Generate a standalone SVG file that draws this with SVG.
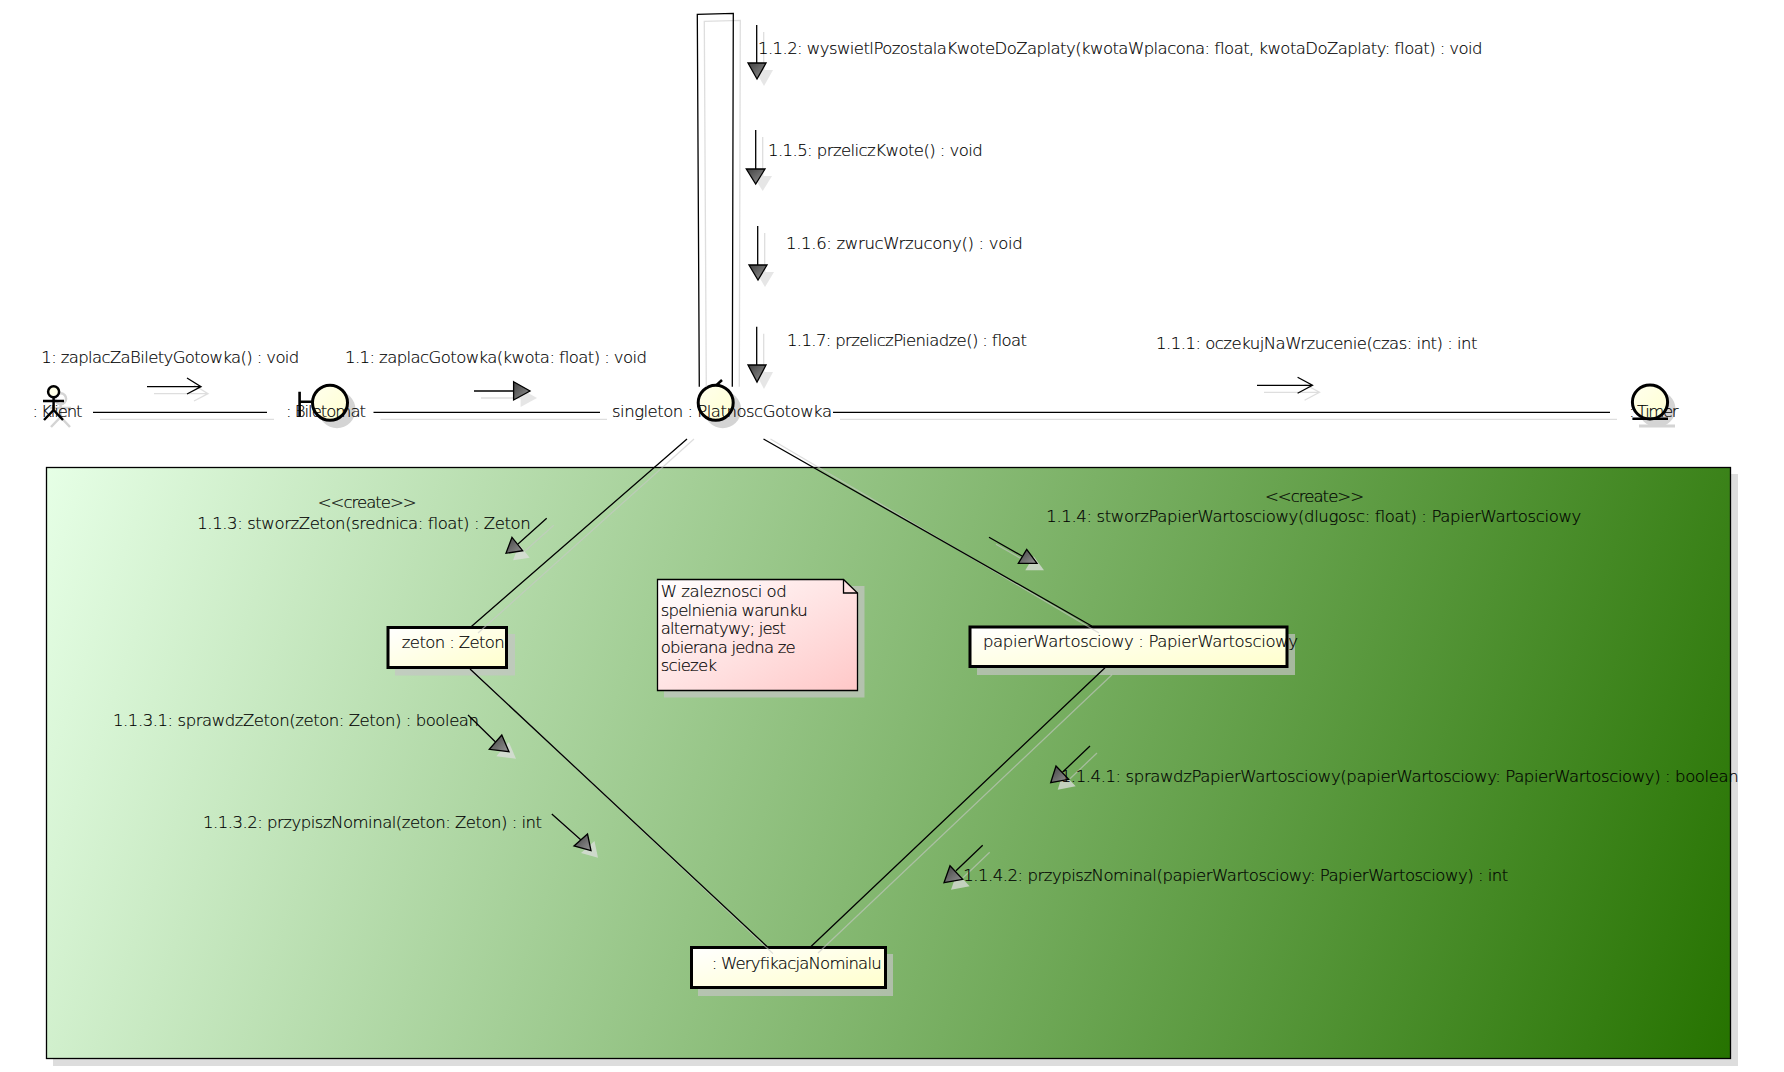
<svg xmlns="http://www.w3.org/2000/svg" width="1784" height="1072" viewBox="0 0 1784 1072">
<style>
text{font-family:"DejaVu Sans",sans-serif;font-size:16.5px;font-weight:200;fill:#000;stroke:#000;stroke-width:.18}
.l{fill:none;stroke:#000;stroke-width:1.3}
.t{fill:url(#tri);stroke:#000;stroke-width:1.3;stroke-linejoin:miter}
.sl{fill:none;stroke:#c8c8c8;stroke-width:1.3;stroke-opacity:.6}
.st{fill:#ddd;fill-opacity:.75}
.ns{fill:#c4c4c4;fill-opacity:.7}
.is{fill:#d4d4d4}
.ic{fill:url(#ylI);stroke:#000;stroke-width:3}
.b{fill:url(#yl);stroke:#000;stroke-width:3}
.ln{fill:none;stroke:#000;stroke-width:2.6}
</style>
<defs>
<linearGradient id="frameG" gradientUnits="userSpaceOnUse" x1="46" y1="467" x2="1730" y2="1058"><stop offset="0" stop-color="#e6ffe6"/><stop offset="1" stop-color="#267300"/></linearGradient>
<linearGradient id="noteG" x1="0" y1="0" x2="1" y2="1"><stop offset="0" stop-color="#fff"/><stop offset="1" stop-color="#ffc8c8"/></linearGradient>
<linearGradient id="yl" x1="0" y1="0" x2="1" y2="1"><stop offset="0" stop-color="#fff"/><stop offset="1" stop-color="#ffffcc"/></linearGradient>
<linearGradient id="ylI" x1="0" y1="0" x2="1" y2="1"><stop offset="0" stop-color="#ffffee"/><stop offset="1" stop-color="#ffffd0"/></linearGradient>
<linearGradient id="tri" x1="0" y1="0" x2="1" y2="1"><stop offset="0" stop-color="#404040"/><stop offset="1" stop-color="#959595"/></linearGradient>
</defs>
<g id="frame">
<rect x="53" y="474" width="1685" height="592" fill="#ddd"/>
<rect x="46.500" y="467.500" width="1684" height="591" fill="url(#frameG)" stroke="#000" stroke-width="1.3"/>
</g>
<g id="note">
<path class="ns" d="M664 586H864.500V697.500H664Z"/>
<path d="M657.500 579.500H843.500L857.500 593V690.500H657.500Z" fill="url(#noteG)" stroke="#000" stroke-width="1.3"/>
<path d="M843.500 579.500V593H857.500" fill="none" stroke="#000" stroke-width="1.3"/>
<text x="660.700" y="596.700" textLength="126">W zaleznosci od</text>
<text x="660.700" y="615.700" textLength="147">spelnienia warunku</text>
<text x="660.700" y="634" textLength="125.300">alternatywy; jest</text>
<text x="660.700" y="652.700" textLength="135">obierana jedna ze</text>
<text x="660.700" y="671" textLength="56.300">sciezek</text>
</g>
<g id="klient">
<g transform="translate(7,7)" fill="none" stroke="#d4d4d4" stroke-width="2.500"><circle cx="53.600" cy="391.700" r="5.500"/><path d="M53.600 397V410M43 401H64M53.600 410L44 420M53.600 410L63 420"/></g>
<circle cx="53.600" cy="391.700" r="5.500" fill="#ffffe8" stroke="#000" stroke-width="2.500"/>
<path d="M53.600 397V410M43 401H64M53.600 410L44 420M53.600 410L63 420" fill="none" stroke="#000" stroke-width="2.500"/>
<text x="32.500" y="417" textLength="50">: Klient</text>
</g>
<g id="biletomat">
<circle class="is" cx="337" cy="409.700" r="18.500"/>
<path class="ln" d="M299.600 391.700V416.700M299.600 401.700H312"/>
<circle class="ic" cx="330" cy="402.700" r="17.500"/>
<text x="286" y="417" textLength="80">: Biletomat</text>
</g>
<g id="platnosc">
<circle class="is" cx="722.700" cy="409.700" r="18.500"/>
<path class="ln" d="M722 380L716 385.500L721 389"/>
<circle class="ic" cx="715.700" cy="402.700" r="17.500"/>
<text x="612" y="417" textLength="220">singleton : PlatnoscGotowka</text>
</g>
<g id="timer">
<ellipse class="is" cx="1657" cy="409" rx="18.500" ry="18"/>
<rect class="is" x="1639" y="424.500" width="36" height="3"/>
<ellipse class="ic" cx="1650" cy="402" rx="17.600" ry="17"/>
<path class="ln" d="M1632.400 418.800H1668"/>
<text x="1629" y="417" textLength="49.500">: Timer</text>
</g>
<g id="zeton">
<rect class="ns" x="395" y="634" width="120" height="41.500"/>
<rect class="b" x="388" y="627.500" width="118.500" height="40"/>
<text x="401.800" y="648" textLength="103">zeton : Zeton</text>
</g>
<g id="papierWartosciowy">
<rect class="ns" x="977" y="634" width="318" height="41"/>
<rect class="b" x="970" y="627" width="317" height="39.500"/>
<text x="983" y="647" textLength="315">papierWartosciowy : PapierWartosciowy</text>
</g>
<g id="weryfikacjaNominalu">
<rect class="ns" x="698" y="954" width="195" height="42"/>
<rect class="b" x="691.500" y="947.500" width="194" height="40"/>
<text x="711.700" y="969" textLength="170">: WeryfikacjaNominalu</text>
</g>
<g id="connectors">
<g id="shadows" transform="translate(7,7)">
<path class="sl" d="M93 412.300H267M373.500 412.300H600M833 412.300H1610"/>
<path class="sl" d="M699.300 379.700L697.300 14.300L733.300 13.300L732.300 379.700"/>
<path class="sl" d="M687 432L471 626M763.500 432L1092 626M470 668L766 946.600M1105 667.700L811 946"/>
<path class="sl" d="M147 386.700H201M187 378L201 386.700L187 394"/>
<path class="sl" d="M474 391H513.600"/><polygon class="st" points="513.600,381.700 530,391 513.600,400"/>
<path class="sl" d="M1257 385.300H1312.500M1297.600 377.300L1312.500 385.300L1297.600 393.300"/>
<path class="sl" d="M756.700 25V63M755.700 130V169M757.700 226V265M756.700 326.700V365"/>
<polygon class="st" points="748,63 766,63 757,79"/><polygon class="st" points="746.300,169 765,169 755.700,184"/><polygon class="st" points="749,265 767,265 758,280"/><polygon class="st" points="748,365 766,365 757,382"/>
<path class="sl" d="M546.700 518.300L518 544M989 537.300L1022 556M468 715L495.500 742M551.800 814L581 840M1090 746L1063 771.700M982.700 845.300L956 870.700"/>
<polygon class="st" points="512,537.300 522.700,550.700 506,553.300"/><polygon class="st" points="1026.700,549.300 1037,563.300 1018.300,563.300"/><polygon class="st" points="501.800,735 509,751.700 489.300,749.300"/><polygon class="st" points="587.500,834 591,850.700 574,846"/><polygon class="st" points="1056,766 1068.700,779.300 1050.700,782.700"/><polygon class="st" points="950,865.700 962.700,879.300 944,882.700"/>
</g>
<path class="l" d="M93 412.300H267M373.500 412.300H600M833 412.300H1610"/>
<path class="l" d="M699.300 386.700L697.300 14.300L733.300 13.300L732.300 386.700"/>
<path class="l" d="M687 439L471.400 626.500M763.500 439L1091.700 626M470 669L767 946.500M1105 667.700L811 946.500"/>
<path class="l" d="M147 386.700H201M187 378L201 386.700L187 394"/>
<path class="l" d="M474 391H513.600"/><polygon class="t" points="513.600,381.700 530,391 513.600,400"/>
<path class="l" d="M1257 385.300H1312.500M1297.600 377.300L1312.500 385.300L1297.600 393.300"/>
<path class="l" d="M756.700 25V63M755.700 130V169M757.700 226V265M756.700 326.700V365"/>
<polygon class="t" points="748,63 766,63 757,79"/><polygon class="t" points="746.300,169 765,169 755.700,184"/><polygon class="t" points="749,265 767,265 758,280"/><polygon class="t" points="748,365 766,365 757,382"/>
<path class="l" d="M546.700 518.300L518 544M989 537.300L1022 556M468 715L495.500 742M551.800 814L581 840M1090 746L1063 771.700M982.700 845.300L956 870.700"/>
<polygon class="t" points="512,537.300 522.700,550.700 506,553.300"/><polygon class="t" points="1026.700,549.300 1037,563.300 1018.300,563.300"/><polygon class="t" points="501.800,735 509,751.700 489.300,749.300"/><polygon class="t" points="587.500,834 591,850.700 574,846"/><polygon class="t" points="1056,766 1068.700,779.300 1050.700,782.700"/><polygon class="t" points="950,865.700 962.700,879.300 944,882.700"/>
<g id="labels">
<text x="41.300" y="363" textLength="258">1: zaplacZaBiletyGotowka() : void</text>
<text x="345" y="363" textLength="302">1.1: zaplacGotowka(kwota: float) : void</text>
<text x="1156" y="349.300" textLength="321.500">1.1.1: oczekujNaWrzucenie(czas: int) : int</text>
<text x="758" y="54" textLength="724.600">1.1.2: wyswietlPozostalaKwoteDoZaplaty(kwotaWplacona: float, kwotaDoZaplaty: float) : void</text>
<text x="768" y="156" textLength="214.700">1.1.5: przeliczKwote() : void</text>
<text x="786" y="249.300" textLength="236.700">1.1.6: zwrucWrzucony() : void</text>
<text x="787" y="346" textLength="240">1.1.7: przeliczPieniadze() : float</text>
<text x="317.700" y="508.300" textLength="99">&lt;&lt;create&gt;&gt;</text>
<text x="197.300" y="529" textLength="333.400">1.1.3: stworzZeton(srednica: float) : Zeton</text>
<text x="1265" y="501.700" textLength="99">&lt;&lt;create&gt;&gt;</text>
<text x="1046.300" y="521.700" textLength="535">1.1.4: stworzPapierWartosciowy(dlugosc: float) : PapierWartosciowy</text>
<text x="113" y="726" textLength="366">1.1.3.1: sprawdzZeton(zeton: Zeton) : boolean</text>
<text x="203" y="828" textLength="339">1.1.3.2: przypiszNominal(zeton: Zeton) : int</text>
<text x="1060.700" y="781.700" textLength="678">1.1.4.1: sprawdzPapierWartosciowy(papierWartosciowy: PapierWartosciowy) : boolean</text>
<text x="963.300" y="881" textLength="545">1.1.4.2: przypiszNominal(papierWartosciowy: PapierWartosciowy) : int</text>
</g>
</g>
</svg>
